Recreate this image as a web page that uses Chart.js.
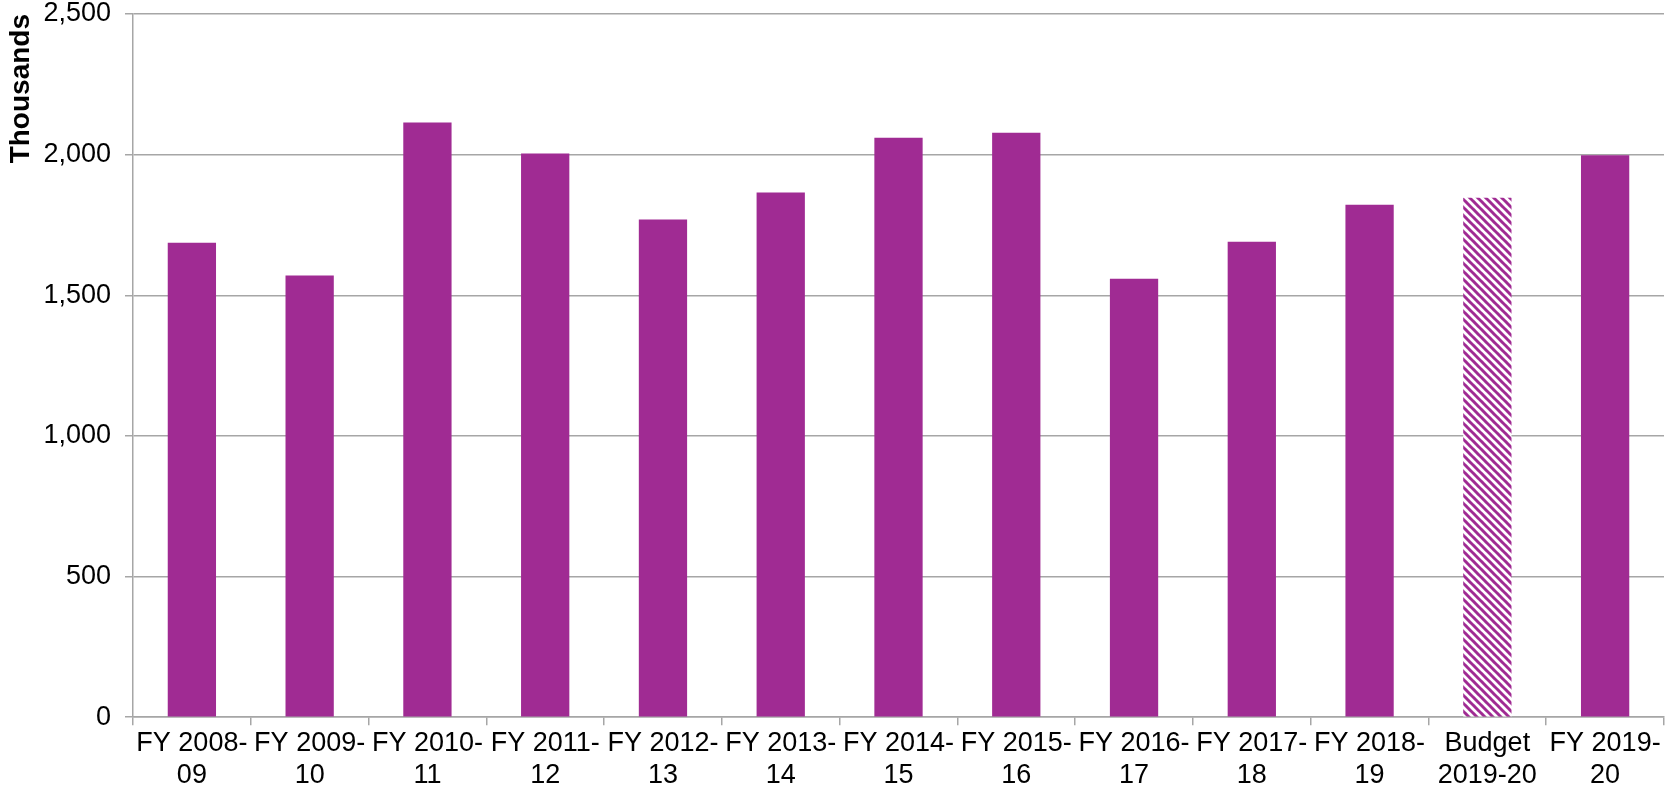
<!DOCTYPE html>
<html>
<head>
<meta charset="utf-8">
<script src="https://cdn.jsdelivr.net/npm/chart.js@4"></script>
<style>
  html, body { margin: 0; padding: 0; background: #fff; }
  #wrap { width: 1672px; height: 800px; }
</style>
</head>
<body>
<div id="wrap"><canvas id="fyChart"></canvas></div>
<script>
// values (thousands)
const categories = [
  ['FY 2008-', '09'], ['FY 2009-', '10'], ['FY 2010-', '11'], ['FY 2011-', '12'],
  ['FY 2012-', '13'], ['FY 2013-', '14'], ['FY 2014-', '15'], ['FY 2015-', '16'],
  ['FY 2016-', '17'], ['FY 2017-', '18'], ['FY 2018-', '19'], ['Budget', '2019-20'],
  ['FY 2019-', '20']
];
const values = [1687, 1570, 2114, 2004, 1769, 1865, 2060, 2078, 1559, 1690, 1822, 1847, 1998];
const budgetIndex = 11;
const yTicks = [0, 500, 1000, 1500, 2000, 2500];

const purple = '#A02B93';

// diagonal hatch for the budget bar
function makeHatch() {
  const c = document.createElement('canvas');
  c.width = 8; c.height = 8;
  const g = c.getContext('2d');
  g.fillStyle = '#fff';
  g.fillRect(0, 0, 8, 8);
  g.strokeStyle = purple;
  g.lineWidth = 3;
  for (let k = -1; k <= 1; k++) {
    g.beginPath();
    g.moveTo(k * 8 - 1, -1);
    g.lineTo(k * 8 + 9, 9);
    g.stroke();
  }
  return g.createPattern(c, 'repeat');
}

const hatch = makeHatch();
const gridColor = '#a6a6a6';
const font = { family: 'Liberation Sans, Arial, sans-serif', size: 27 };

new Chart(document.getElementById('fyChart'), {
  type: 'bar',
  data: {
    labels: categories,
    datasets: [{
      data: values,
      backgroundColor: values.map((v, i) => i === budgetIndex ? hatch : purple),
      borderWidth: 0,
      barPercentage: 0.41,
      categoryPercentage: 1
    }]
  },
  options: {
    responsive: true,
    maintainAspectRatio: false,
    animation: false,
    layout: { padding: { top: 14, right: 8, bottom: 6, left: 0 } },
    plugins: {
      legend: { display: false },
      tooltip: { enabled: false }
    },
    scales: {
      x: {
        grid: {
          display: true,
          drawOnChartArea: false,
          drawTicks: true,
          tickLength: 8,
          color: gridColor,
          lineWidth: 1.5
        },
        border: { color: gridColor, width: 1.5 },
        ticks: {
          color: '#000',
          font: font,
          padding: 2,
          maxRotation: 0,
          autoSkip: false
        }
      },
      y: {
        min: 0,
        max: 2500,
        afterBuildTicks: axis => { axis.ticks = yTicks.map(v => ({ value: v })); },
        afterFit: axis => {
          axis.width = 133;
          axis.paddingTop = 0;
          axis.paddingBottom = 0;
        },
        grid: {
          color: gridColor,
          lineWidth: 1.5,
          tickLength: 8
        },
        border: { color: gridColor, width: 1.5 },
        ticks: {
          color: '#000',
          font: font,
          padding: 14,
          callback: v => v.toLocaleString('en-US')
        },
        title: {
          display: true,
          text: 'Thousands',
          align: 'end',
          color: '#000',
          font: { family: font.family, size: 28, weight: 'bold' },
          padding: { top: 4, bottom: 0 }
        }
      }
    }
  }
});
</script>
</body>
</html>
